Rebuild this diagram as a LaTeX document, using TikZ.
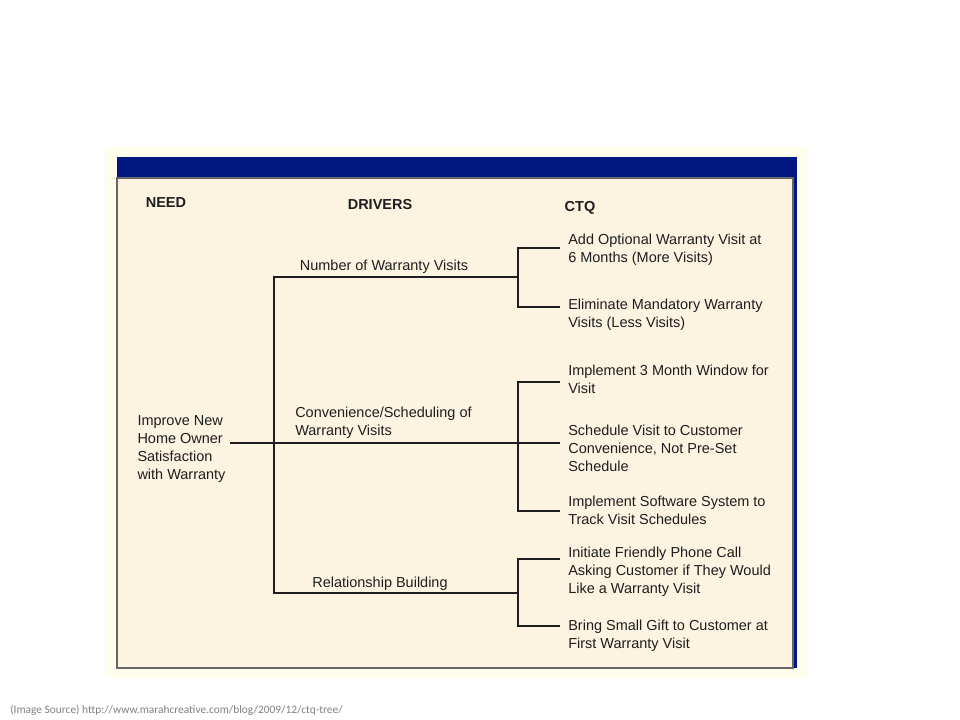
\documentclass[tikz,border=0pt]{standalone}
\usepackage{fontspec}
\setmainfont{Liberation Sans}
\newfontfamily\srcfont{Carlito}
\usetikzlibrary{calc}
\definecolor{paleyellow}{HTML}{FFFDEB}
\definecolor{cream}{HTML}{FDF3E1}
\definecolor{barnavy}{HTML}{001880}
\definecolor{inkgray}{HTML}{1E1E1E}

\begin{document}
\begin{tikzpicture}[
        x=0.025cm, y=-0.025cm,
        every node/.style={font=\fontsize{10.3}{12.8}\selectfont, text=inkgray},
        head/.style={font=\fontsize{10.3}{12.8}\selectfont\bfseries, inner sep=0pt},
        driver/.style={align=left, inner sep=0pt},
        need/.style={align=left, anchor=west, inner sep=3pt},
        ctq/.style={align=left, anchor=west, inner xsep=5.7pt, inner ysep=0pt},
        branch/.style={draw=inkgray, line width=1.2pt}
    ]
        \useasboundingbox (0,0) rectangle (960,720);

% Panel with the title bar
        \fill[paleyellow] (105,147) rectangle (808,678);
        \fill[barnavy] (117,157) rectangle (797,668);
        \filldraw[fill=cream, draw=black!60, line width=0.8pt] (117,178) rectangle (793,668);

% Column headings
        \node[head] (needhead) at (166,203) {NEED};
        \node[head] (drvhead) at (380,205) {DRIVERS};
        \node[head] (ctqhead) at (580,208) {CTQ};

% Need
        \node[need] (need) at (133,449) {Improve New\\Home Owner\\Satisfaction\\with Warranty};

% Drivers
        \node[driver] (drv1) at (384,267) {Number of Warranty Visits};
        \node[driver, anchor=west] (drv2) at (295,423) {Convenience/Scheduling of\\Warranty Visits};
        \node[driver] (drv3) at (380,584) {Relationship Building};

% CTQs
        \node[ctq] (ctq1) at (560,250) {Add Optional Warranty Visit at\\6 Months (More Visits)};
        \node[ctq] (ctq2) at (560,315) {Eliminate Mandatory Warranty\\Visits (Less Visits)};
        \node[ctq] (ctq3) at (560,379) {Implement 3 Month Window for\\Visit};
        \node[ctq] (ctq4) at (560,448) {Schedule Visit to Customer\\Convenience, Not Pre-Set\\Schedule};
        \node[ctq] (ctq5) at (560,510) {Implement Software System to\\Track Visit Schedules};
        \node[ctq] (ctq6) at (560,572) {Initiate Friendly Phone Call\\Asking Customer if They Would\\Like a Warranty Visit};
        \node[ctq] (ctq7) at (560,636) {Bring Small Gift to Customer at\\First Warranty Visit};

% Branch points
        \coordinate (t1) at (274,277);
        \coordinate (t3) at (274,593);
        \coordinate (b1a) at (518,248);
        \coordinate (b1m) at (518,277);
        \coordinate (b1b) at (518,307);
        \coordinate (b2a) at (518,382);
        \coordinate (b2m) at (518,443);
        \coordinate (b2b) at (518,511);
        \coordinate (b3a) at (518,559);
        \coordinate (b3m) at (518,593);
        \coordinate (b3b) at (518,626);

% Trunk and need line
        \draw[branch] (b1m) -- (t1) -- (t3) -- (b3m);
        \draw[branch] (need.east |- b2m) -- (b2m -| ctq4.west);

% Brackets to the CTQs
        \draw[branch] (b1a -| ctq1.west) -- (b1a) -- (b1b) -- (b1b -| ctq2.west);
        \draw[branch] (b2a -| ctq3.west) -- (b2a) -- (b2b) -- (b2b -| ctq5.west);
        \draw[branch] (b3a -| ctq6.west) -- (b3a) -- (b3b) -- (b3b -| ctq7.west);

% Source line
        \node[font=\srcfont\fontsize{8.1}{9.5}\selectfont, text=gray, anchor=west, inner sep=0pt] (source) at (10,710)
            {(Image Source) http://www.marahcreative.com/blog/2009/12/ctq-tree/};
    \end{tikzpicture}
\end{document}
